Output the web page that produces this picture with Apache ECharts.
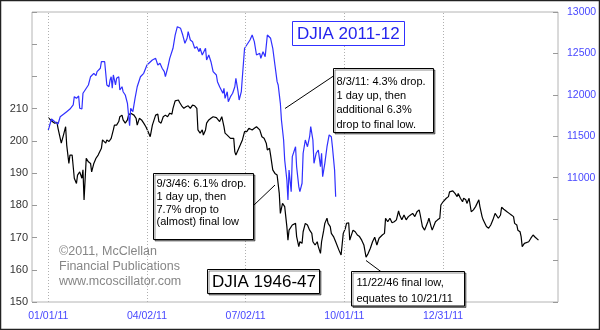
<!DOCTYPE html>
<html><head><meta charset="utf-8">
<script src="https://cdn.jsdelivr.net/npm/echarts@6/dist/echarts.min.js"></script>
<style>html,body{margin:0;padding:0;background:#fff}#c{width:600px;height:330px}</style>
</head><body><div id="c"></div>
<script>
// DJIA 2011-12 (right axis)
const blueDates = [
'2011-01-01','2011-01-04','2011-01-07','2011-01-10','2011-01-12','2011-01-15','2011-01-18','2011-01-21','2011-01-24','2011-01-25',
'2011-01-27','2011-01-29','2011-01-30','2011-02-01','2011-02-02','2011-02-04','2011-02-07','2011-02-09','2011-02-12','2011-02-14',
'2011-02-15','2011-02-18','2011-02-19','2011-02-22','2011-02-23','2011-02-24','2011-02-26','2011-02-27','2011-02-28','2011-03-01',
'2011-03-02','2011-03-04','2011-03-05','2011-03-07','2011-03-08','2011-03-10','2011-03-11','2011-03-13','2011-03-15','2011-03-16',
'2011-03-17','2011-03-18','2011-03-20','2011-03-22','2011-03-24','2011-03-27','2011-03-30','2011-04-02','2011-04-07','2011-04-10',
'2011-04-12','2011-04-14','2011-04-16','2011-04-18','2011-04-19','2011-04-21','2011-04-23','2011-04-26','2011-04-28','2011-04-30',
'2011-05-03','2011-05-05','2011-05-07','2011-05-09','2011-05-10','2011-05-12','2011-05-14','2011-05-16','2011-05-18','2011-05-20',
'2011-05-21','2011-05-23','2011-05-26','2011-05-27','2011-05-29','2011-05-31','2011-06-02','2011-06-05','2011-06-06','2011-06-08',
'2011-06-09','2011-06-11','2011-06-12','2011-06-13','2011-06-15','2011-06-16','2011-06-18','2011-06-20','2011-06-22','2011-06-23',
'2011-06-25','2011-06-26','2011-06-28','2011-06-29','2011-07-01','2011-07-03','2011-07-06','2011-07-08','2011-07-10','2011-07-12',
'2011-07-15','2011-07-16','2011-07-18','2011-07-20','2011-07-22','2011-07-25','2011-07-27','2011-07-29','2011-07-31','2011-08-01',
'2011-08-03','2011-08-04','2011-08-06','2011-08-07','2011-08-09','2011-08-10','2011-08-11','2011-08-13','2011-08-14','2011-08-17',
'2011-08-18','2011-08-20','2011-08-21','2011-08-23','2011-08-24','2011-08-26','2011-08-28','2011-08-30','2011-08-31','2011-09-02',
'2011-09-03','2011-09-05','2011-09-07','2011-09-09','2011-09-10','2011-09-11','2011-09-13','2011-09-15','2011-09-17','2011-09-19',
'2011-09-20','2011-09-22','2011-09-23'];
const blueValues = [
11576,11709,11676,11648,11736,11765,11797,11829,11878,11978,
11958,11986,11838,11829,12019,12059,12119,12219,12260,12231,
12280,12321,12400,12400,12260,12119,12098,12179,12219,12079,
12240,12119,12200,12219,12059,12098,12038,11998,11898,11757,
11628,11838,11797,11958,12098,12219,12260,12360,12421,12441,
12360,12381,12321,12280,12219,12321,12441,12562,12722,12823,
12803,12722,12622,12683,12762,12662,12642,12562,12581,12521,
12562,12481,12562,12421,12481,12400,12280,12240,12159,12098,
12111,12019,12079,11958,12038,11917,11978,12019,12098,12200,
12038,11938,12038,12219,12562,12602,12662,12722,12642,12481,
12502,12441,12521,12461,12722,12683,12562,12360,12159,12119,
11898,11697,11455,11214,10972,10731,11093,10831,11254,11374,
11133,10892,10831,10933,11295,11455,11374,11495,11616,11455,
11174,11295,11334,11133,11295,11012,11174,11374,11516,11495,
11374,11093,10771];

// DJIA 1946-47 (left axis), shifted onto 2011-12 dates
const blackDates = [
'2011-01-01','2011-01-04','2011-01-07','2011-01-09','2011-01-10','2011-01-13','2011-01-15','2011-01-17','2011-01-18','2011-01-20',
'2011-01-21','2011-01-23','2011-01-25','2011-01-27','2011-01-28','2011-01-30','2011-02-01','2011-02-02','2011-02-03','2011-02-05',
'2011-02-07','2011-02-09','2011-02-10','2011-02-12','2011-02-14','2011-02-16','2011-02-19','2011-02-20','2011-02-23','2011-02-24',
'2011-02-26','2011-02-28','2011-03-02','2011-03-03','2011-03-05','2011-03-07','2011-03-08','2011-03-10','2011-03-11','2011-03-13',
'2011-03-15','2011-03-16','2011-03-18','2011-03-21','2011-03-23','2011-03-24','2011-03-26','2011-03-28','2011-03-30','2011-04-01',
'2011-04-03','2011-04-04','2011-04-05','2011-04-07','2011-04-10','2011-04-12','2011-04-13','2011-04-15','2011-04-17','2011-04-19',
'2011-04-21','2011-04-23','2011-04-25','2011-04-26','2011-04-28','2011-05-01','2011-05-02','2011-05-04','2011-05-06','2011-05-08',
'2011-05-10','2011-05-12','2011-05-14','2011-05-16','2011-05-18','2011-05-19','2011-05-20','2011-05-21','2011-05-23','2011-05-24',
'2011-05-26','2011-05-27','2011-05-29','2011-05-31','2011-06-02','2011-06-05','2011-06-06','2011-06-08','2011-06-10','2011-06-12',
'2011-06-13','2011-06-15','2011-06-16','2011-06-18','2011-06-19','2011-06-21','2011-06-22','2011-06-23','2011-06-25','2011-06-27',
'2011-06-29','2011-07-01','2011-07-03','2011-07-05','2011-07-08','2011-07-10','2011-07-12','2011-07-15','2011-07-17','2011-07-19',
'2011-07-21','2011-07-22','2011-07-24','2011-07-25','2011-07-27','2011-07-29','2011-07-31','2011-08-02','2011-08-03','2011-08-05',
'2011-08-06','2011-08-07','2011-08-09','2011-08-10','2011-08-11','2011-08-14','2011-08-15','2011-08-17','2011-08-18','2011-08-20',
'2011-08-21','2011-08-23','2011-08-24','2011-08-26','2011-08-28','2011-08-30','2011-09-01','2011-09-02','2011-09-04','2011-09-06',
'2011-09-07','2011-09-09','2011-09-10','2011-09-12','2011-09-13','2011-09-15','2011-09-16','2011-09-18','2011-09-19','2011-09-21',
'2011-09-23','2011-09-26','2011-09-28','2011-09-30','2011-10-02','2011-10-03','2011-10-05','2011-10-06','2011-10-09','2011-10-11',
'2011-10-13','2011-10-15','2011-10-17','2011-10-19','2011-10-21','2011-10-23','2011-10-25','2011-10-27','2011-10-29','2011-10-31',
'2011-11-02','2011-11-05','2011-11-07','2011-11-08','2011-11-10','2011-11-12','2011-11-14','2011-11-16','2011-11-18','2011-11-20',
'2011-11-21','2011-11-23','2011-11-25','2011-11-27','2011-11-29','2011-12-01','2011-12-03','2011-12-05','2011-12-07','2011-12-09',
'2011-12-10','2011-12-12','2011-12-14','2011-12-17','2011-12-18','2011-12-20','2011-12-21','2011-12-24','2011-12-26','2011-12-28',
'2011-12-29','2011-12-31','2012-01-03','2012-01-05','2012-01-06','2012-01-09','2012-01-11','2012-01-13','2012-01-14','2012-01-16',
'2012-01-18','2012-01-19','2012-01-21','2012-01-22','2012-01-24','2012-01-26','2012-01-28','2012-01-30','2012-02-02','2012-02-03',
'2012-02-05','2012-02-06','2012-02-09','2012-02-11','2012-02-13','2012-02-15','2012-02-17','2012-02-18','2012-02-20','2012-02-22',
'2012-02-23','2012-02-25','2012-02-28','2012-03-01','2012-03-03','2012-03-05','2012-03-06','2012-03-08','2012-03-09','2012-03-11',
'2012-03-12','2012-03-13','2012-03-15','2012-03-16','2012-03-19','2012-03-21','2012-03-23','2012-03-25','2012-03-26','2012-03-28'];
const blackValues = [
207.2,206.2,205.5,205.8,203.9,199.3,201.8,204.4,198.7,193.0,
195.6,195.6,188.4,186.8,189.4,190.4,188.4,191.0,181.7,194.6,
193.5,193.0,190.4,193.0,194.6,195.6,197.7,200.3,199.3,200.3,
199.8,200.8,203.4,204.9,204.9,206.0,207.5,208.0,206.5,205.5,
206.5,208.0,208.6,208.0,207.0,204.9,207.0,206.5,205.5,204.4,
202.9,202.4,201.3,204.9,208.0,208.3,206.0,205.5,207.5,208.0,
207.5,208.6,208.3,210.1,212.4,212.7,212.0,210.9,210.1,210.6,
210.9,210.1,211.1,210.9,210.1,203.4,203.9,202.4,203.4,201.8,
203.4,205.5,206.5,207.0,207.5,207.2,207.5,206.0,207.5,204.4,
202.4,201.8,201.3,200.8,201.3,200.8,196.6,195.6,197.2,198.7,
200.3,202.9,202.9,203.9,203.4,203.9,204.4,203.4,201.3,200.8,
199.3,197.2,197.7,195.6,191.0,189.9,189.4,183.7,177.5,180.6,
181.1,179.6,173.4,169.2,172.3,173.9,173.4,174.4,170.3,167.2,
168.7,168.2,171.8,174.4,173.9,172.3,171.3,168.7,167.7,168.7,
167.2,165.1,168.7,172.3,174.4,176.0,174.4,173.4,171.3,170.3,
168.7,166.1,164.6,171.3,172.9,174.4,174.6,169.2,172.3,171.8,
170.8,170.3,169.2,167.7,163.9,165.1,166.7,168.7,170.1,167.7,
169.8,170.8,171.3,176.0,174.9,176.0,174.6,174.9,175.5,178.3,
177.0,175.5,177.0,175.5,176.5,177.0,177.5,176.5,178.0,178.6,
177.0,173.4,172.3,174.9,176.0,173.4,172.3,174.9,175.5,176.0,
180.1,181.1,182.2,182.7,184.2,184.5,183.7,182.7,183.7,182.2,
181.1,182.2,181.7,180.6,182.2,178.0,178.6,179.6,181.7,179.6,
176.5,175.5,173.4,172.9,173.9,175.5,177.5,177.0,176.0,177.0,
179.4,178.8,178.0,177.5,177.0,176.5,174.4,173.9,172.3,171.8,
170.3,167.2,168.2,167.7,168.7,169.8,170.8,170.1,169.5,169.2];

const xTickDates = ['2011-01-01','2011-04-02','2011-07-02','2011-10-01','2011-12-31'];
const xRange = ['2010-12-17','2012-04-15'];
const leftRange = [150, 240], leftStep = 10, leftLabelMax = 210;
const rightRange = [9500, 13000], rightStep = 500, rightLabelMin = 11000;

const FONT = '"Liberation Sans", Arial, sans-serif';
function ts(s){ const p = s.split('-'); return Date.UTC(+p[0], +p[1]-1, +p[2]); }
function pad(n){ return (n < 10 ? '0' : '') + n; }
function fmtDate(v){ const d = new Date(v); return pad(d.getUTCMonth()+1) + '/' + pad(d.getUTCDate()) + '/' + pad(d.getUTCFullYear() % 100); }

const chart = echarts.init(document.getElementById('c'), null, {renderer: 'canvas'});
const blueColor = '#3030ff';
const labelBlue = '#4848ff';

function box(x, y, w, h, stroke, shadow){
  return {type:'rect', shape:{x:x, y:y, width:w, height:h}, z:100,
    style:{fill:'#fff', stroke:stroke, lineWidth:1,
      shadowColor: shadow ? 'rgba(0,0,0,0.45)' : 'transparent', shadowOffsetX: shadow ? 1.5 : 0, shadowOffsetY: shadow ? 1.5 : 0, shadowBlur: 0}};
}
function txt(x, y, s, size, color, lh){
  return {type:'text', x:x, y:y, z:101, style:{text:s, font: size + 'px ' + FONT, fill:color, lineHeight: lh || size*1.2, verticalAlign:'top', align:'left'}};
}
function seg(x1, y1, x2, y2){
  return {type:'line', z:99, shape:{x1:x1, y1:y1, x2:x2, y2:y2}, style:{stroke:'#000', lineWidth:1}};
}

chart.setOption({
  animation: false,
  grid: {left: 32, right: 42, top: 12, bottom: 28, show: true, borderColor: '#b4b4b4', borderWidth: 1, backgroundColor: 'transparent'},
  xAxis: {
    type: 'value', min: ts(xRange[0]), max: ts(xRange[1]),
    axisLine: {show: false}, axisTick: {show: false}, splitLine: {show: false},
    axisLabel: {customValues: xTickDates.map(ts), formatter: v => fmtDate(v), color: labelBlue, fontSize: 10.5, fontFamily: FONT, margin: 9, hideOverlap: false}
  },
  yAxis: [
    {type: 'value', position: 'left', min: leftRange[0], max: leftRange[1], interval: leftStep,
     axisLine: {show: false}, splitLine: {show: false},
     axisTick: {show: true, inside: true, length: 5, lineStyle: {color: '#999'}},
     axisLabel: {formatter: v => (v <= leftLabelMax ? String(v) : ''), color: '#333', fontSize: 11, fontFamily: FONT, margin: 4}},
    {type: 'value', position: 'right', min: rightRange[0], max: rightRange[1], interval: rightStep,
     axisLine: {show: false}, splitLine: {show: false},
     axisTick: {show: true, inside: true, length: 5, lineStyle: {color: '#999'}},
     axisLabel: {formatter: v => (v >= rightLabelMin ? String(v) : ''), color: labelBlue, fontSize: 10.5, fontFamily: FONT, margin: 9}}
  ],
  series: [
    {name: 'DJIA 1946-47', type: 'line', xAxisIndex: 0, yAxisIndex: 0, showSymbol: false, z: 3,
     data: blackDates.map((d, i) => [ts(d), blackValues[i]]),
     lineStyle: {color: '#000', width: 1.2},
     markLine: {silent: true, symbol: ['none', 'none'], label: {show: false},
       lineStyle: {color: '#b0b0b0', type: [1, 2], width: 1},
       data: xTickDates.map(d => ({xAxis: ts(d)}))}},
    {name: 'DJIA 2011-12', type: 'line', xAxisIndex: 0, yAxisIndex: 1, showSymbol: false, z: 4,
     data: blueDates.map((d, i) => [ts(d), blueValues[i]]),
     lineStyle: {color: blueColor, width: 1.2}}
  ],
  graphic: [
    {type:'rect', shape:{x:0.5, y:0.5, width:599, height:329}, z:200, style:{fill:'none', stroke:'#222', lineWidth:1.5}},
    box(292.5, 21.5, 112, 24, blueColor, false),
    txt(297, 24.5, 'DJIA 2011-12', 17, '#2424ee'),
    box(207.5, 269.5, 112, 24, '#000', true),
    txt(212, 272.5, 'DJIA 1946-47', 17, '#000'),
    seg(333.5, 76, 285, 108.5),
    box(333.5, 68.5, 100, 64, '#000', true),
    txt(336.5, 74.5, '8/3/11: 4.3% drop.\n1 day up, then\nadditional 6.3%\ndrop to final low.', 11, '#000', 14.3),
    seg(253.5, 205.5, 275, 185),
    box(153.5, 173.5, 100, 66, '#000', true),
    txt(156.5, 178, '9/3/46: 6.1% drop.\n1 day up, then\n7.7% drop to\n(almost) final low', 11, '#000', 12.7),
    seg(366, 260.5, 381.5, 272),
    box(351.5, 271.5, 113, 34.5, '#000', true),
    txt(356.5, 274.5, '11/22/46 final low,\nequates to 10/21/11', 11, '#000', 16.3),
    txt(59, 244.5, '\u00a92011, McClellan\nFinancial Publications\nwww.mcoscillator.com', 12.5, '#868686', 14.7)
  ]
});
</script>
</body></html>
